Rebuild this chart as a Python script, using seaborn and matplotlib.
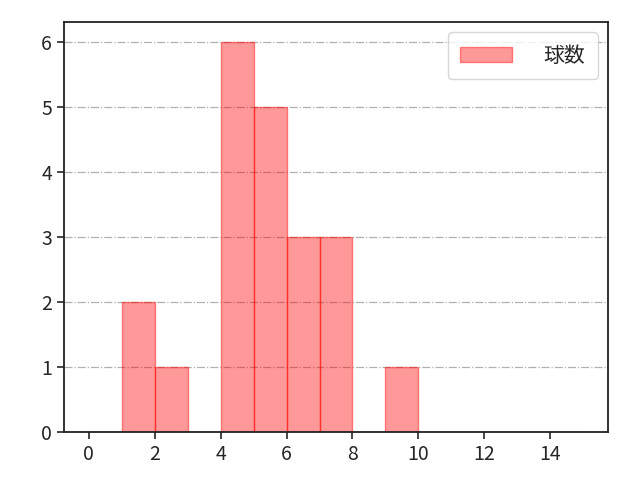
import matplotlib
matplotlib.use("Agg")
import matplotlib.pyplot as plt
import seaborn as sns
import numpy as np

# pitch counts per plate appearance
pitches = [1, 1, 2, 4, 4, 4, 4, 4, 4, 5, 5, 5, 5, 5, 6, 6, 6, 7, 7, 7, 9]
bin_edges = list(range(0, 16))
label = "球数"

sns.set_style("ticks")
plt.rcParams['font.family'] = ['Noto Sans CJK JP', 'DejaVu Sans']

fig, ax = plt.subplots(1, 1, figsize=(6.4, 4.8), dpi=100)

sns.histplot(x=pitches, bins=bin_edges, ax=ax, color="red", alpha=0.4,
             edgecolor=(1, 0, 0, 0.45), linewidth=1.0, label=label)

ax.set_xlim(-0.75, 15.75)
ax.set_xticks(range(0, 16, 2))
ax.set_yticks(range(0, 7))
ax.set_ylabel("")
ax.yaxis.grid(True, linestyle="-.", color="#b0b0b0", linewidth=0.9)
ax.set_axisbelow(True)
ax.tick_params(labelsize=14, length=5, width=1.2)
for s in ax.spines.values():
    s.set_linewidth(1.3)
    s.set_color("#222222")
ax.legend(loc="upper right", fontsize=15, borderpad=0.6, handlelength=2.5,
          handletextpad=1.5)

fig.subplots_adjust(left=0.1, right=0.95, bottom=0.1, top=0.954)
fig.savefig("out.png", dpi=100)
